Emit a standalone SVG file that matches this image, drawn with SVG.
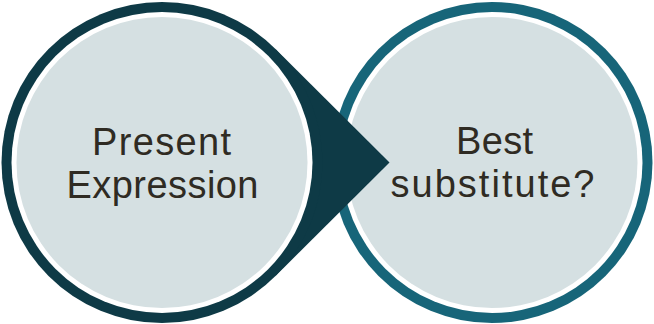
<svg xmlns="http://www.w3.org/2000/svg" width="654" height="324" viewBox="0 0 654 324">
  <style>
    .ring { fill: #ffffff; }
    .face { fill: #d5e0e2; }
    .label { font-family: "Liberation Sans", Arial, sans-serif; font-size: 38px; fill: #2f2b23; text-anchor: middle; }
  </style>
  <rect width="654" height="324" fill="#ffffff"/>
  <g id="node-best-substitute">
    <circle cx="492" cy="162.5" r="160.5" fill="#176579"/>
    <circle class="ring" cx="492" cy="162.5" r="150.5"/>
    <circle class="face" cx="492" cy="162.5" r="145.5"/>
    <text class="label" x="494.5" y="154" textLength="77" lengthAdjust="spacing">Best</text>
    <text class="label" x="492.5" y="197" textLength="204" lengthAdjust="spacing">substitute?</text>
  </g>
  <g id="connectors">
    <polygon points="389.5,162.5 275.5,49 275.5,276" fill="#0e3a46"/>
  </g>
  <g id="node-present-expression">
    <circle cx="162" cy="162.5" r="160.5" fill="#0e3a46"/>
    <circle class="ring" cx="162" cy="162.5" r="150.5"/>
    <circle class="face" cx="162" cy="162.5" r="145.5"/>
    <text class="label" x="161.5" y="155" textLength="139" lengthAdjust="spacing">Present</text>
    <text class="label" x="162.5" y="198" textLength="192" lengthAdjust="spacing">Expression</text>
  </g>
</svg>
